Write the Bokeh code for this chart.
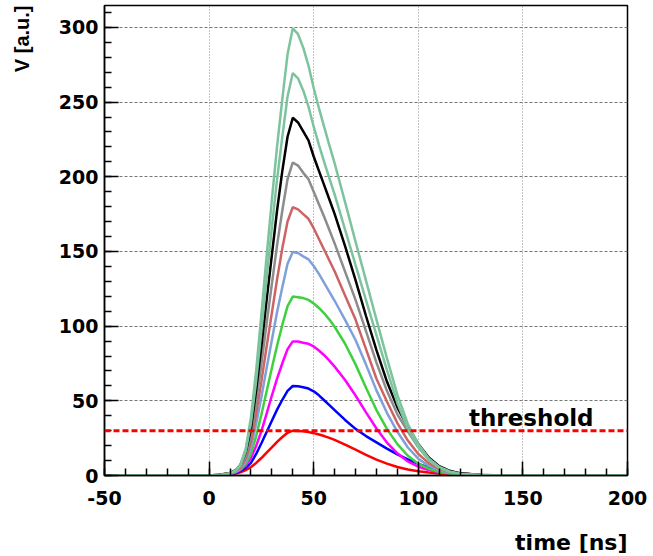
from bokeh.plotting import figure
from bokeh.models import Range1d, SingleIntervalTicker, Label, Span, Title
from bokeh.embed import file_html
from bokeh.resources import INLINE

# time axis [ns]
time_ns = [-50, 0, 5, 10, 12.5, 15, 17.5, 20, 22.5, 25, 27.5, 30, 32.5, 35, 37.5, 40, 42.5,
           45, 47.5, 50, 52.5, 55, 57.5, 60, 65, 70, 75, 80, 85, 90, 95, 100, 105, 110,
           115, 120, 130, 140, 200]

# pulse heights V [a.u.]
v_30 = [0, 0, 0.15, 0.6, 1.2, 2.1, 3.6, 5.7, 8.4, 11.7, 15.3, 18.9, 22.5, 25.8, 28.65, 30,
        29.85, 29.55, 29.1, 28.35, 27.45, 26.4, 25.2, 23.85, 20.7, 17.25, 13.8, 10.65, 7.95,
        5.7, 4.05, 2.85, 1.95, 1.26, 0.78, 0.48, 0.15, 0.03, 0]
v_60 = [0, 0, 0.24, 0.9, 1.68, 3, 5.1, 8.4, 14.4, 21.6, 29.1, 36.6, 44.1, 50.7, 56.7, 59.9,
        59.7, 59.1, 58.2, 56.4, 53.7, 50.4, 47.1, 43.8, 37.2, 31.2, 26.4, 22.2, 18, 14.1, 10.8,
        7.8, 5.4, 3.48, 2.16, 1.26, 0.36, 0.06, 0]
v_90 = [0, 0, 0.27, 1.08, 1.98, 3.6, 6.48, 11.7, 19.8, 29.7, 41.4, 53.55, 64.8, 75.15, 84.6,
        89.8, 89.7, 88.9, 88.2, 86.4, 83.7, 80.55, 76.95, 72.9, 63.9, 53.55, 42.3, 31.5, 22.05,
        14.85, 9.45, 5.85, 3.6, 2.16, 1.26, 0.72, 0.18, 0, 0]
v_120 = [0, 0, 0.24, 1.2, 2.28, 4.2, 7.8, 14.4, 26.4, 40.8, 56.4, 72, 87, 100.8, 113.4, 119.8,
         119.4, 118.8, 117.6, 115.2, 112.2, 108.6, 104.4, 99.6, 88.2, 74.4, 58.8, 43.8, 31.2,
         21, 13.2, 7.92, 4.56, 2.52, 1.32, 0.72, 0.18, 0, 0]
v_150 = [0, 0, 0.3, 1.2, 2.4, 4.5, 9.3, 18.75, 34.5, 52.5, 72, 90.75, 109.5, 126, 141.75,
         149.7, 148.95, 146.7, 144.75, 140.25, 135, 129, 123, 117, 104.25, 90.75, 74.25, 57,
         42, 29.25, 18.75, 11.25, 6.45, 3.6, 1.95, 1.05, 0.3, 0, 0]
v_180 = [0, 0, 0.36, 1.44, 2.88, 5.4, 11.16, 22.5, 41.4, 63, 86.4, 108.9, 131.4, 152.1, 170.1,
         179.6, 178.2, 175, 171.9, 165.6, 158.4, 151.2, 144, 136.8, 120.6, 104.4, 84.6, 64.8,
         49.5, 35.1, 23.4, 14.4, 8.28, 4.5, 2.34, 1.26, 0.36, 0, 0]
v_210 = [0, 0, 0.42, 1.68, 3.15, 6.3, 13.02, 26.88, 49.35, 74.55, 101.85, 128.1, 154.35, 177.45,
         198.45, 209.6, 207.5, 202.65, 198.45, 190.05, 181.65, 173.25, 164.43, 155.4, 136.5,
         117.6, 96.6, 75.6, 56.7, 40.95, 29.4, 18.9, 10.92, 5.88, 2.94, 1.47, 0.42, 0, 0]
v_240 = [0, 0, 0.48, 1.68, 3.36, 7.2, 15.6, 31.2, 57.6, 86.4, 117.6, 147.6, 177.6, 204, 226.8,
         239.5, 236.4, 230.4, 224.4, 213.6, 204, 194.4, 184.8, 175.2, 153.6, 130.8, 106.8, 84,
         62.88, 45.6, 32.4, 21.12, 12, 6.24, 3.12, 1.44, 0.36, 0, 0]
v_270 = [0, 0, 0.27, 1.35, 2.97, 6.75, 16.2, 35.1, 63.45, 97.2, 132.3, 166.05, 198.45, 226.8,
         253.8, 269.5, 265.95, 257.85, 247.05, 233.55, 221.4, 210.06, 198.99, 188.19, 164.7,
         140.94, 117.45, 93.96, 70.74, 48.6, 31.05, 18.9, 10.26, 5.13, 2.43, 1.08, 0.27, 0, 0]
v_300 = [0, 0, 0.3, 1.5, 3.3, 7.5, 18, 39, 70.5, 108, 147, 184.5, 220.5, 252, 282, 299.4,
         295.5, 286.5, 274.5, 259.5, 246, 233.4, 221.1, 209.1, 183, 156.6, 130.5, 104.4, 78.6,
         54, 34.5, 21, 11.4, 5.7, 2.7, 1.2, 0.3, 0, 0]

series = [v_30, v_60, v_90, v_120, v_150, v_180, v_210, v_240, v_270, v_300]
colors = ["#ff0000", "#0000ff", "#ff00ff", "#3fcf3f", "#7fa0d8", "#cc6464",
          "#8c8c8c", "#000000", "#7dc49e", "#7dc49e"]

threshold = 30
threshold_label = "threshold"
x_title = "time [ns]"
y_title = "V [a.u.]"

p = figure(width=650, height=556, output_backend="svg", toolbar_location=None,
           title=None, x_range=Range1d(-50, 200), y_range=Range1d(0, 314.7),
           min_border_left=104, min_border_right=23, min_border_top=5,
           min_border_bottom=81)
p.background_fill_color = "white"
p.border_fill_color = "white"
p.outline_line_color = "black"
p.outline_line_width = 1.5

for ax in (p.xaxis[0], p.yaxis[0]):
    ax.axis_line_width = 1.5
    ax.axis_line_color = "black"
    ax.major_tick_in = 14
    ax.major_tick_out = 0
    ax.minor_tick_in = 7
    ax.minor_tick_out = 0
    ax.major_tick_line_width = 1.5
    ax.minor_tick_line_width = 1.5
    ax.major_label_text_font = "DejaVu Sans"
    ax.major_label_text_font_style = "bold"
    ax.major_label_text_font_size = "19px"
    ax.major_label_text_color = "black"

p.xaxis[0].ticker = SingleIntervalTicker(interval=50, num_minor_ticks=5)
p.yaxis[0].ticker = SingleIntervalTicker(interval=50, num_minor_ticks=5)
p.xaxis[0].major_label_overrides = {-50: "-50"}
p.xaxis[0].major_label_standoff = 15
p.yaxis[0].major_label_standoff = 6

p.xgrid.grid_line_color = "#888888"
p.xgrid.grid_line_dash = "1 2"
p.xgrid.grid_line_width = 1
p.ygrid.grid_line_color = "#777777"
p.ygrid.grid_line_dash = "3 2"
p.ygrid.grid_line_width = 1

for ys, c in zip(series, colors):
    p.line(time_ns, ys, line_color=c, line_width=2.5)

p.add_layout(Span(location=threshold, dimension="width", line_color="#ff0000",
                  line_dash="6 3", line_width=3))

p.add_layout(Label(x=154, y=38.5, text=threshold_label, text_align="center",
                   text_baseline="alphabetic", text_font="DejaVu Sans",
                   text_font_style="bold", text_font_size="23px", text_color="black"))

# spacers between the axes and their titles
p.add_layout(Title(text=" ", text_font_size="1px", standoff=17), "below")
p.add_layout(Title(text=x_title, align="right", text_font="DejaVu Sans",
                   text_font_style="bold", text_font_size="22px", text_color="black",
                   standoff=0), "below")
p.add_layout(Title(text=" ", text_font_size="1px", standoff=20), "left")
p.add_layout(Title(text=y_title, align="right", text_font="Liberation Sans",
                   text_font_style="bold", text_font_size="20px", text_color="black",
                   standoff=0), "left")

open("out.html", "w").write(file_html(p, INLINE))
